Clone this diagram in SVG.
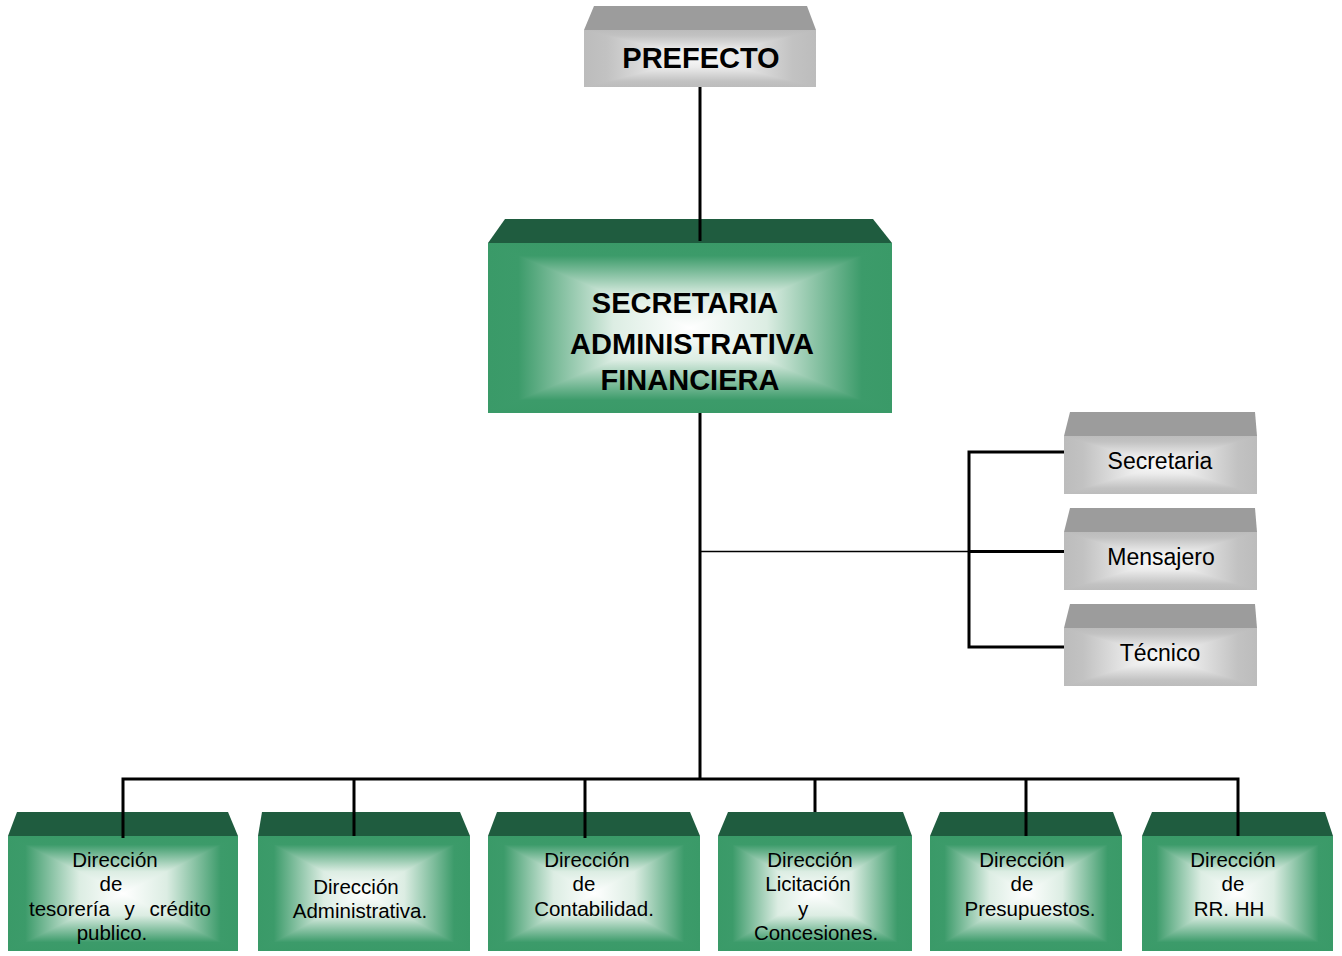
<svg xmlns="http://www.w3.org/2000/svg" xmlns:xlink="http://www.w3.org/1999/xlink" width="1342" height="956" viewBox="0 0 1342 956">
<style>
.t{font-family:"Liberation Sans",Arial,sans-serif;fill:#000;text-anchor:middle}
.b{font-weight:bold;font-size:29px}
.s{font-size:20.5px}
.m{font-size:23px}
.topG{fill:#1f5c3f}
.topY{fill:#9c9c9c}
.ln{stroke:#000;stroke-width:3;fill:none}
.pp{shape-rendering:crispEdges}
</style>
<defs>
<linearGradient id="gT" x1="0" y1="0" x2="0" y2="1"><stop offset="0" stop-color="#3a9a68"/><stop offset="0.15" stop-color="#3c9b6a"/><stop offset="0.62" stop-color="#dcede3"/><stop offset="1" stop-color="#ffffff"/></linearGradient>
<linearGradient id="gB" x1="0" y1="1" x2="0" y2="0" xlink:href="#gT"/>
<linearGradient id="gL" x1="0" y1="0" x2="1" y2="0" xlink:href="#gT"/>
<linearGradient id="gR" x1="1" y1="0" x2="0" y2="0" xlink:href="#gT"/>
<linearGradient id="yT" x1="0" y1="0" x2="0" y2="1"><stop offset="0" stop-color="#bcbcbc"/><stop offset="0.2" stop-color="#c2c2c2"/><stop offset="0.7" stop-color="#ececec"/><stop offset="1" stop-color="#f8f8f8"/></linearGradient>
<linearGradient id="yB" x1="0" y1="1" x2="0" y2="0" xlink:href="#yT"/>
<linearGradient id="yL" x1="0" y1="0" x2="1" y2="0" xlink:href="#yT"/>
<linearGradient id="yR" x1="1" y1="0" x2="0" y2="0" xlink:href="#yT"/>
<symbol id="pg" viewBox="0 0 100 100" preserveAspectRatio="none">
<polygon class="pp" points="0,0 100,0 50,50" fill="url(#gT)"/>
<polygon class="pp" points="0,100 100,100 50,50" fill="url(#gB)"/>
<polygon class="pp" points="0,0 0,100 50,50" fill="url(#gL)"/>
<polygon class="pp" points="100,0 100,100 50,50" fill="url(#gR)"/>
</symbol>
<symbol id="py" viewBox="0 0 100 100" preserveAspectRatio="none">
<polygon class="pp" points="0,0 100,0 50,50" fill="url(#yT)"/>
<polygon class="pp" points="0,100 100,100 50,50" fill="url(#yB)"/>
<polygon class="pp" points="0,0 0,100 50,50" fill="url(#yL)"/>
<polygon class="pp" points="100,0 100,100 50,50" fill="url(#yR)"/>
</symbol>
</defs>
<rect width="1342" height="956" fill="#fff"/>

<g id="prefecto">
<polygon class="topY" points="594,6 807,6 816,30 584,30"/>
<use xlink:href="#py" x="584" y="30" width="232" height="57"/>
<text class="t b" x="701" y="68">PREFECTO</text>
</g>

<g id="secretaria-admin">
<polygon class="topG" points="505,219 873,219 892,243 488,243"/>
<use xlink:href="#pg" x="488" y="243" width="404" height="170"/>
<text class="t b" x="685" y="313">SECRETARIA</text>
<text class="t b" x="692" y="354">ADMINISTRATIVA</text>
<text class="t b" x="690" y="390">FINANCIERA</text>
</g>

<g id="secretaria">
<polygon class="topY" points="1070,412 1255,412 1257,436 1064,436"/>
<use xlink:href="#py" x="1064" y="436" width="193" height="58"/>
<text class="t m" x="1160" y="469">Secretaria</text>
</g>
<g id="mensajero">
<polygon class="topY" points="1070,508 1255,508 1257,532 1064,532"/>
<use xlink:href="#py" x="1064" y="532" width="193" height="58"/>
<text class="t m" x="1161" y="565">Mensajero</text>
</g>
<g id="tecnico">
<polygon class="topY" points="1070,604 1255,604 1257,628 1064,628"/>
<use xlink:href="#py" x="1064" y="628" width="193" height="58"/>
<text class="t m" x="1160" y="661">Técnico</text>
</g>

<g id="dir-tesoreria">
<polygon class="topG" points="17,812 228,812 238,836 8,836"/>
<use xlink:href="#pg" x="8" y="836" width="230" height="115"/>
<text class="t s" x="115" y="867">Dirección</text>
<text class="t s" x="111" y="891">de</text>
<text class="t s" x="120" y="916" word-spacing="9">tesorería y crédito</text>
<text class="t s" x="112" y="940">publico.</text>
</g>
<g id="dir-administrativa">
<polygon class="topG" points="262,812 460,812 470,836 258,836"/>
<use xlink:href="#pg" x="258" y="836" width="212" height="115"/>
<text class="t s" x="356" y="894">Dirección</text>
<text class="t s" x="360" y="918">Administrativa.</text>
</g>
<g id="dir-contabilidad">
<polygon class="topG" points="497,812 690,812 700,836 488,836"/>
<use xlink:href="#pg" x="488" y="836" width="212" height="115"/>
<text class="t s" x="587" y="867">Dirección</text>
<text class="t s" x="584" y="891">de</text>
<text class="t s" x="594" y="916">Contabilidad.</text>
</g>
<g id="dir-licitacion">
<polygon class="topG" points="728,812 903,812 912,836 718,836"/>
<use xlink:href="#pg" x="718" y="836" width="194" height="115"/>
<text class="t s" x="810" y="867">Dirección</text>
<text class="t s" x="808" y="891">Licitación</text>
<text class="t s" x="803" y="916">y</text>
<text class="t s" x="816" y="940">Concesiones.</text>
</g>
<g id="dir-presupuestos">
<polygon class="topG" points="940,812 1113,812 1122,836 930,836"/>
<use xlink:href="#pg" x="930" y="836" width="192" height="115"/>
<text class="t s" x="1022" y="867">Dirección</text>
<text class="t s" x="1022" y="891">de</text>
<text class="t s" x="1030" y="916">Presupuestos.</text>
</g>
<g id="dir-rrhh">
<polygon class="topG" points="1152,812 1325,812 1333,836 1142,836"/>
<use xlink:href="#pg" x="1142" y="836" width="191" height="115"/>
<text class="t s" x="1233" y="867">Dirección</text>
<text class="t s" x="1233" y="891">de</text>
<text class="t s" x="1229" y="916">RR. HH</text>
</g>

<g id="connectors">
<line class="ln" x1="700" y1="87" x2="700" y2="241"/>
<line class="ln" x1="700" y1="413" x2="700" y2="779"/>
<line x1="700" y1="551.5" x2="969" y2="551.5" stroke="#000" stroke-width="1.5"/>
<polyline class="ln" points="1064,452 969,452 969,647 1064,647"/>
<line class="ln" x1="969" y1="551.5" x2="1064" y2="551.5"/>
<polyline class="ln" points="123,838 123,779 1238,779 1238,836"/>
<line class="ln" x1="354" y1="779" x2="354" y2="836"/>
<line class="ln" x1="585" y1="779" x2="585" y2="838"/>
<line class="ln" x1="815" y1="779" x2="815" y2="812"/>
<line class="ln" x1="1026" y1="779" x2="1026" y2="836"/>
</g>
</svg>
